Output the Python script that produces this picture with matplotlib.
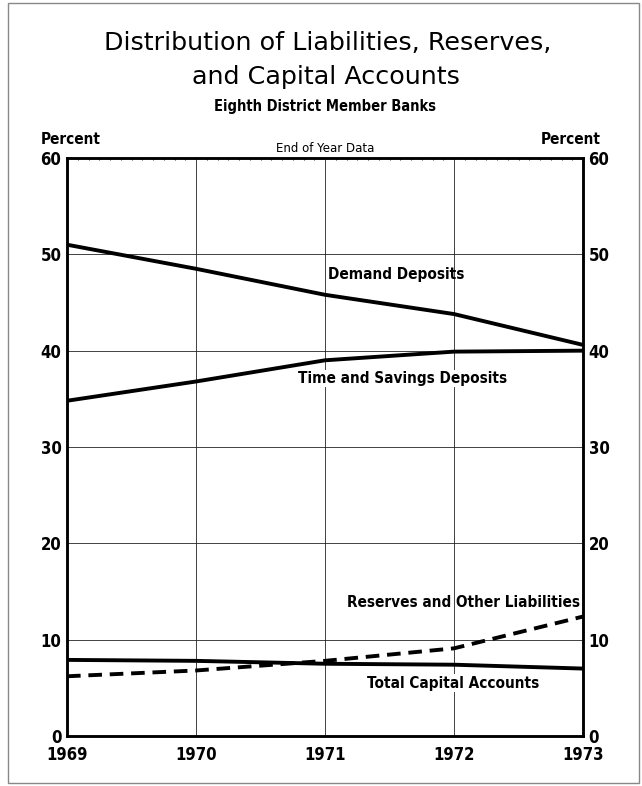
import matplotlib.pyplot as plt
from matplotlib.patches import Rectangle
from matplotlib.ticker import MultipleLocator

# data (percent, end of year)
years = [1969, 1970, 1971, 1972, 1973]
demand = [51.0, 48.5, 45.8, 43.8, 40.6]
time_savings = [34.8, 36.8, 39.0, 39.9, 40.0]
reserves = [6.2, 6.8, 7.8, 9.1, 12.4]
capital = [7.9, 7.8, 7.5, 7.4, 7.0]

cond = dict(family='DejaVu Sans', stretch='condensed', weight='bold')

fig = plt.figure(figsize=(6.42, 7.86), dpi=100)
ax = fig.add_axes([67 / 642, 1 - 736 / 786, 516 / 642, 578 / 786])

ax.plot(years, demand, color='black', lw=2.8, solid_capstyle='butt', zorder=3)
ax.plot(years, time_savings, color='black', lw=2.8, solid_capstyle='butt', zorder=3)
ax.plot(years, capital, color='black', lw=2.8, solid_capstyle='butt', zorder=3)
ax.plot(years, reserves, color='black', lw=2.8, dashes=(3.5, 2.0), zorder=3)

ax.set_xlim(1969, 1973)
ax.set_ylim(0, 60)
ax.set_xticks(years)
ax.set_yticks(range(0, 61, 10))
ax.xaxis.set_minor_locator(MultipleLocator(1 / 12))
ax.grid(True, color='#222222', lw=0.6)
ax.tick_params(which='major', length=0)
ax.tick_params(which='minor', direction='in', top=True, bottom=False, length=1.6, width=0.6)
for s in ax.spines.values():
    s.set_linewidth(1.8)

ax.set_xticklabels([str(y) for y in years], fontsize=12, **cond)
ax.set_yticklabels([str(v) for v in range(0, 61, 10)], fontsize=12, **cond)
ax.tick_params(axis='x', pad=7)
ax.tick_params(axis='y', pad=4)

ax2 = ax.twinx()
ax2.set_ylim(0, 60)
ax2.set_yticks(range(0, 61, 10))
ax2.set_yticklabels([str(v) for v in range(0, 61, 10)], fontsize=12, **cond)
ax2.tick_params(length=0, pad=4)
for s in ax2.spines.values():
    s.set_linewidth(1.8)

# series labels
lab = dict(fontsize=11, **cond)
box = dict(facecolor='white', edgecolor='none', pad=1)
ax.text(1971.55, 47.9, 'Demand Deposits', ha='center', va='center', **lab)
ax.text(1971.6, 37.1, 'Time and Savings Deposits', ha='center', va='center', bbox=box, **lab)
ax.text(1972.98, 13.9, 'Reserves and Other Liabilities', ha='right', va='center', **lab)
ax.text(1971.99, 5.5, 'Total Capital Accounts', ha='center', va='center', bbox=box, **lab)

# titles and headers
fig.text(328 / 642, 1 - 43 / 786, 'Distribution of Liabilities, Reserves,', ha='center', va='center',
         fontsize=18.3, family='DejaVu Sans')
fig.text(326 / 642, 1 - 77 / 786, 'and Capital Accounts', ha='center', va='center',
         fontsize=18.3, family='DejaVu Sans')
fig.text(325 / 642, 1 - 107 / 786, 'Eighth District Member Banks', ha='center', va='center',
         fontsize=10.5, **cond)
fig.text(41 / 642, 1 - 140 / 786, 'Percent', ha='left', va='center', fontsize=11, **cond)
fig.text(601 / 642, 1 - 140 / 786, 'Percent', ha='right', va='center', fontsize=11, **cond)
fig.text(325 / 642, 1 - 148 / 786, 'End of Year Data', ha='center', va='center',
         fontsize=8.5, family='DejaVu Sans')

# thin frame around the whole exhibit
fig.patches.append(Rectangle((8 / 642, 3 / 786), 631 / 642, 780 / 786, transform=fig.transFigure,
                             fill=False, edgecolor='#888888', lw=1.0))

fig.savefig('out.png', dpi=100)
